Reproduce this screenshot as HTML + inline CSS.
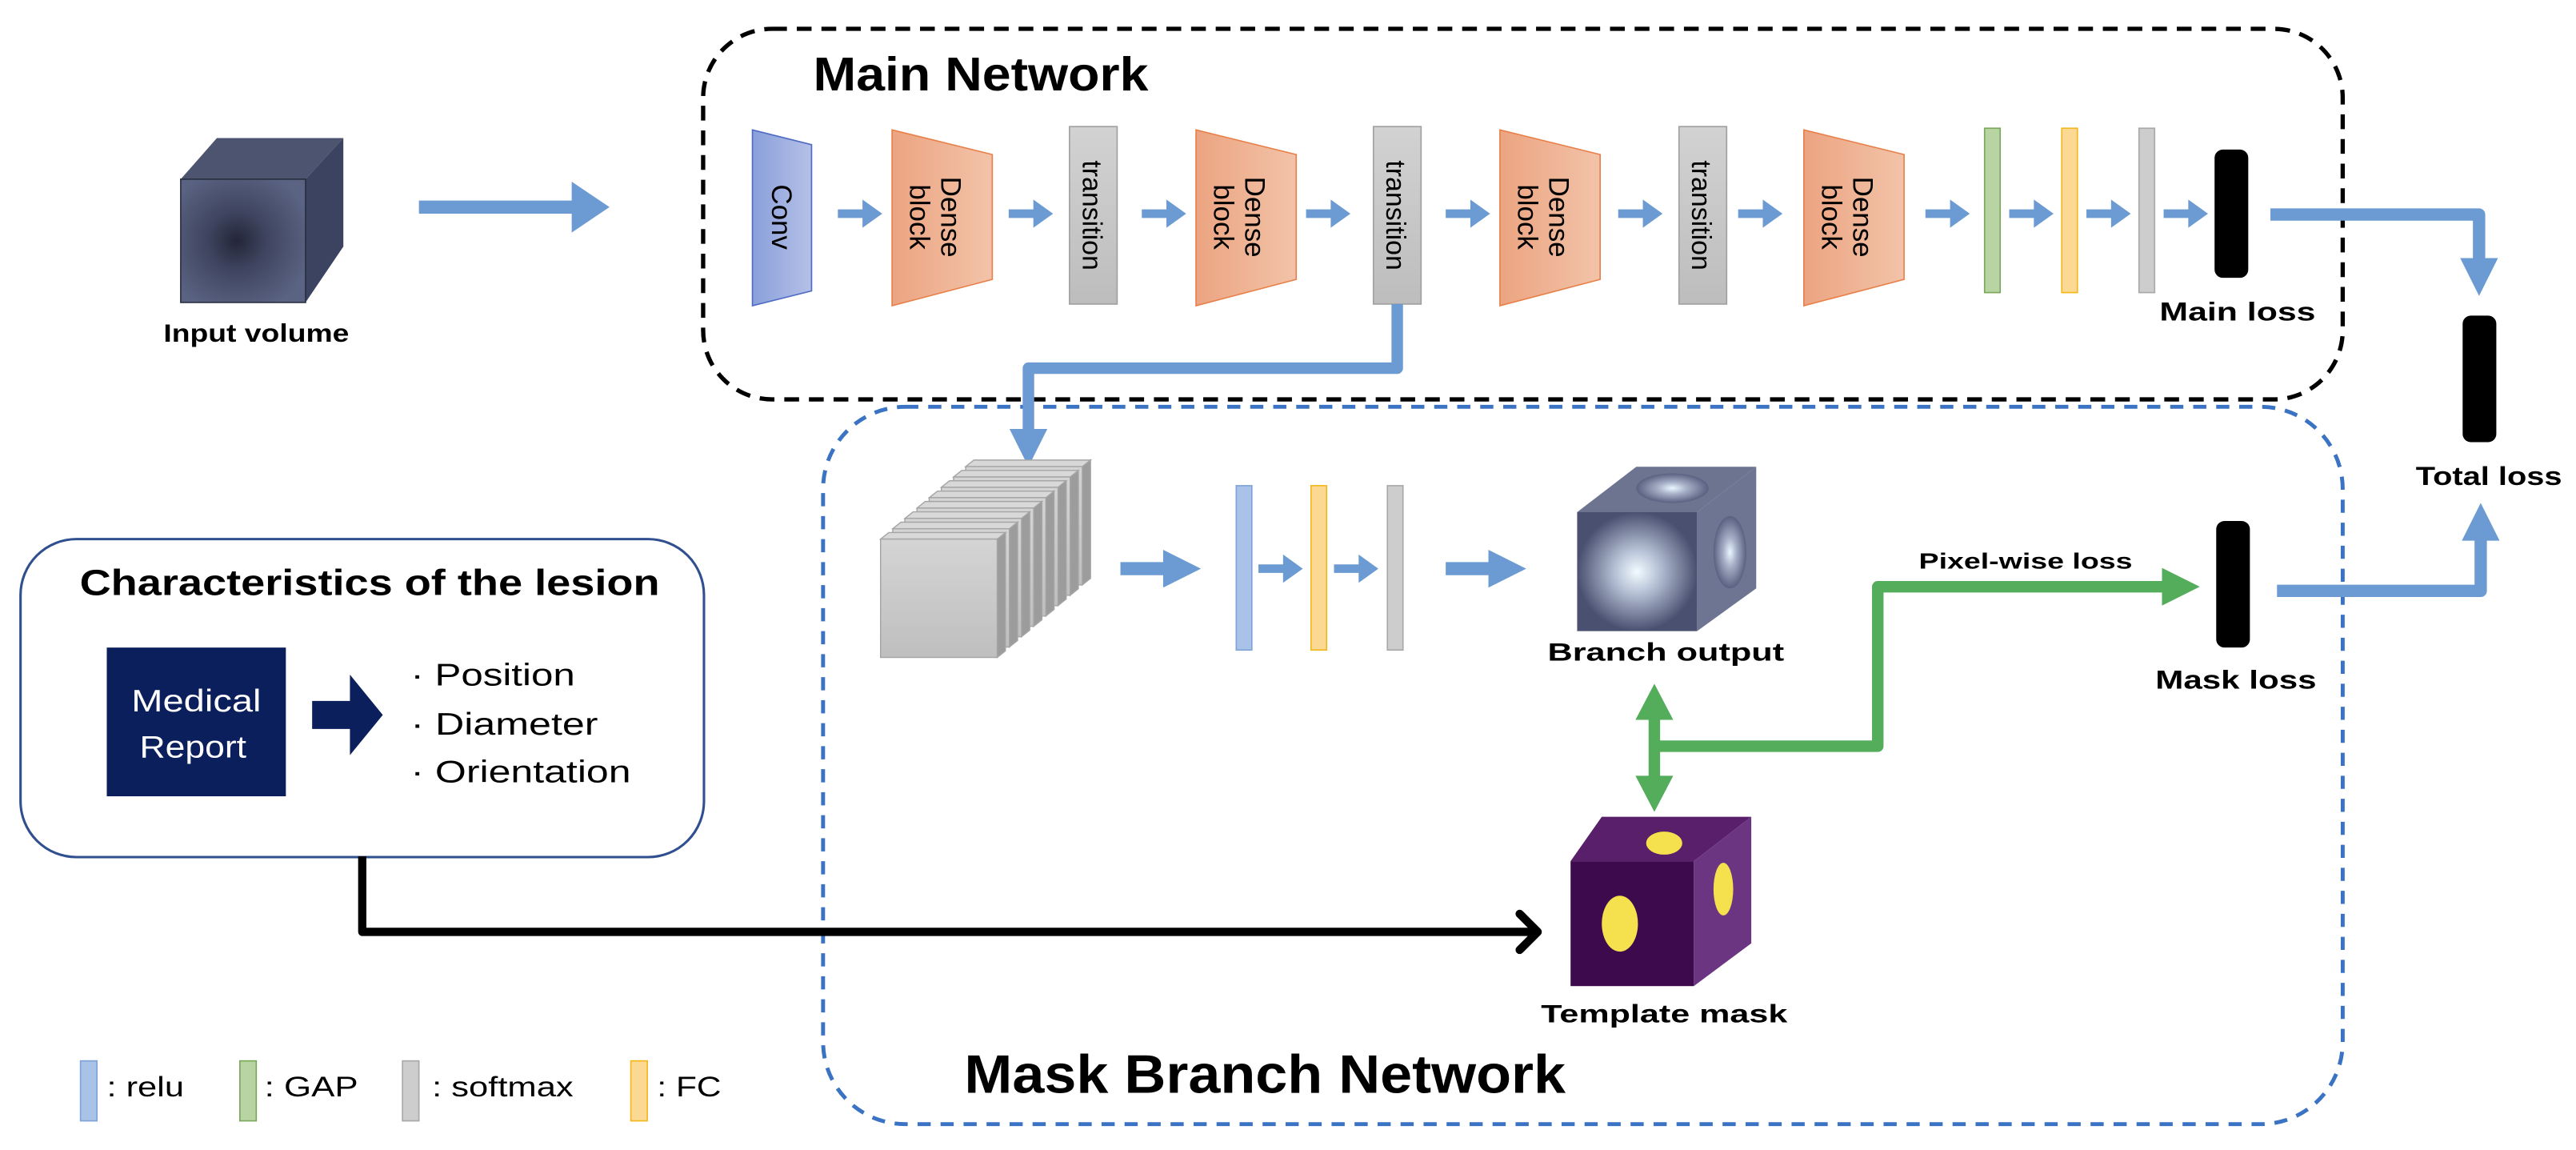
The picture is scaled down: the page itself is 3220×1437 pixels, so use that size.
<!DOCTYPE html>
<html><head><meta charset="utf-8"><style>
html,body{margin:0;padding:0;background:#fff;}
svg{display:block;}
text{font-family:"Liberation Sans",sans-serif;}
</style></head><body>
<svg width="3220" height="1437" viewBox="0 0 1568 699.7" xmlns="http://www.w3.org/2000/svg">
<defs>
<linearGradient id="gConv" x1="0" x2="1"><stop offset="0" stop-color="#8a9fdb"/><stop offset="1" stop-color="#b4c0e6"/></linearGradient>
<linearGradient id="gDense" x1="0" x2="1"><stop offset="0" stop-color="#eca481"/><stop offset="1" stop-color="#f2c3a9"/></linearGradient>
<linearGradient id="gTrans" x1="0" y1="0" x2="0" y2="1"><stop offset="0" stop-color="#d2d2d2"/><stop offset="1" stop-color="#bdbdbd"/></linearGradient>
<linearGradient id="gSlab" x1="0" y1="0" x2="0" y2="1"><stop offset="0" stop-color="#d4d4d4"/><stop offset="1" stop-color="#bfbfbf"/></linearGradient>
<radialGradient id="gSpot" cx="0.5" cy="0.5" r="0.5"><stop offset="0" stop-color="#f2fbff"/><stop offset="0.35" stop-color="#b9c4d8"/><stop offset="1" stop-color="#4a5070"/></radialGradient>
<radialGradient id="gSpot2" cx="0.5" cy="0.5" r="0.5"><stop offset="0" stop-color="#eaf8ff"/><stop offset="0.4" stop-color="#a7b0c8"/><stop offset="1" stop-color="#5a6080"/></radialGradient>
<radialGradient id="gIn" cx="0.45" cy="0.5" r="0.6"><stop offset="0" stop-color="#232638"/><stop offset="0.4" stop-color="#3f4560"/><stop offset="1" stop-color="#5a6382"/></radialGradient>
<path id="sa" d="M0,-2.6 h15 v-6 l12,8.6 l-12,8.6 v-6 h-15 z" fill="#6b9bd2"/>
<path id="ba" d="M0,-4 h26 v-7.5 l23,11.5 l-23,11.5 v-7.5 h-26 z" fill="#6b9bd2"/>
</defs>

<!-- Main network box -->
<rect x="428" y="17.5" width="998" height="225.5" rx="42" fill="none" stroke="#000" stroke-width="2.6" stroke-dasharray="9 6"/>
<text x="495" y="55" font-size="29" font-weight="bold" textLength="204" lengthAdjust="spacingAndGlyphs">Main Network</text>

<!-- Mask branch box -->
<rect x="501" y="247.5" width="925" height="436.5" rx="50" fill="none" stroke="#3a72c4" stroke-width="2.4" stroke-dasharray="8 6"/>
<text x="587" y="665" font-size="33" font-weight="bold" textLength="366" lengthAdjust="spacingAndGlyphs">Mask Branch Network</text>

<!-- Input volume -->
<polygon points="110,109 132,84 209,84 186,109" fill="#4c5470"/>
<polygon points="186,109 209,84 209,150 186,184" fill="#3c4360"/>
<rect x="110" y="109" width="76" height="75" fill="url(#gIn)"/>
<rect x="110" y="109" width="76" height="75" fill="none" stroke="#2a2e40" stroke-width="0.8"/>
<text x="156" y="208" font-size="15.5" font-weight="bold" text-anchor="middle" textLength="113" lengthAdjust="spacingAndGlyphs">Input volume</text>
<path d="M255,122 h93 v-11.5 l23,15.5 l-23,15.5 v-11.5 h-93 z" fill="#6b9bd2"/>

<!-- main chain -->
<polygon points="458,79 494,88 494,177 458,186" fill="url(#gConv)" stroke="#4d6bc4" stroke-width="0.8"/>
<text transform="translate(470,132) rotate(90)" font-size="17" text-anchor="middle">Conv</text>
<use href="#sa" x="510" y="130"/>
<polygon points="543,79 604,94 604,170 543,186" fill="url(#gDense)" stroke="#e8804a" stroke-width="0.8"/>
<text transform="translate(573,132) rotate(90)" font-size="17" text-anchor="middle"><tspan x="0" y="0">Dense</tspan><tspan x="0" y="19">block</tspan></text>
<use href="#sa" x="614" y="130"/>
<rect x="651" y="77" width="29" height="108" fill="url(#gTrans)" stroke="#a0a0a0" stroke-width="0.8"/>
<text transform="translate(659,131) rotate(90)" font-size="16.5" text-anchor="middle">transition</text>
<use href="#sa" x="695" y="130"/>
<polygon points="728,79 789,94 789,170 728,186" fill="url(#gDense)" stroke="#e8804a" stroke-width="0.8"/>
<text transform="translate(758,132) rotate(90)" font-size="17" text-anchor="middle"><tspan x="0" y="0">Dense</tspan><tspan x="0" y="19">block</tspan></text>
<use href="#sa" x="795" y="130"/>
<rect x="836" y="77" width="29" height="108" fill="url(#gTrans)" stroke="#a0a0a0" stroke-width="0.8"/>
<text transform="translate(844,131) rotate(90)" font-size="16.5" text-anchor="middle">transition</text>
<use href="#sa" x="880" y="130"/>
<polygon points="913,79 974,94 974,170 913,186" fill="url(#gDense)" stroke="#e8804a" stroke-width="0.8"/>
<text transform="translate(943,132) rotate(90)" font-size="17" text-anchor="middle"><tspan x="0" y="0">Dense</tspan><tspan x="0" y="19">block</tspan></text>
<use href="#sa" x="985" y="130"/>
<rect x="1022" y="77" width="29" height="108" fill="url(#gTrans)" stroke="#a0a0a0" stroke-width="0.8"/>
<text transform="translate(1030,131) rotate(90)" font-size="16.5" text-anchor="middle">transition</text>
<use href="#sa" x="1058" y="130"/>
<polygon points="1098,79 1159,94 1159,170 1098,186" fill="url(#gDense)" stroke="#e8804a" stroke-width="0.8"/>
<text transform="translate(1128,132) rotate(90)" font-size="17" text-anchor="middle"><tspan x="0" y="0">Dense</tspan><tspan x="0" y="19">block</tspan></text>
<use href="#sa" x="1172" y="130"/>
<rect x="1208" y="78" width="9.5" height="100" fill="#b7d4a2" stroke="#79a85a" stroke-width="0.8"/>
<use href="#sa" x="1223" y="130"/>
<rect x="1255" y="78" width="9.5" height="100" fill="#fcd993" stroke="#f2b71c" stroke-width="0.8"/>
<use href="#sa" x="1270" y="130"/>
<rect x="1302" y="78" width="9.5" height="100" fill="#cdcdcd" stroke="#a8a8a8" stroke-width="0.8"/>
<use href="#sa" x="1317" y="130"/>
<rect x="1348" y="91" width="20.5" height="78" rx="5" fill="#000"/>
<text x="1362" y="195" font-size="16" font-weight="bold" text-anchor="middle" textLength="95" lengthAdjust="spacingAndGlyphs">Main loss</text>

<!-- main -> total -->
<path d="M1382,130.5 H1509 V160" fill="none" stroke="#6b9bd2" stroke-width="7.5" stroke-linejoin="round"/>
<polygon points="1497.5,157 1520.5,157 1509,180" fill="#6b9bd2"/>
<rect x="1499" y="192" width="20.5" height="77" rx="5" fill="#000"/>
<text x="1515" y="295" font-size="16" font-weight="bold" text-anchor="middle" textLength="89" lengthAdjust="spacingAndGlyphs">Total loss</text>
<path d="M1386,359.5 H1510 V325" fill="none" stroke="#6b9bd2" stroke-width="7.5" stroke-linejoin="round"/>
<polygon points="1498.5,329 1521.5,329 1510,306" fill="#6b9bd2"/>

<!-- transition2 -> branch -->
<path d="M850.5,185 V224 H626 V265" fill="none" stroke="#6b9bd2" stroke-width="7" stroke-linejoin="round"/>
<polygon points="614.5,261 637.5,261 626,284" fill="#6b9bd2"/>

<!-- stack of slabs -->
<g stroke="#a5a5a5" stroke-width="0.7">
<g transform="translate(51.8,-44.1)"><polygon points="607,328 612,324 612,396 607,400" fill="#9c9c9c"/><polygon points="536,328 541,324 612,324 607,328" fill="#d8d8d8"/><rect x="536" y="328" width="71" height="72" fill="url(#gSlab)"/></g>
<g transform="translate(44.4,-37.8)"><polygon points="607,328 612,324 612,396 607,400" fill="#9c9c9c"/><polygon points="536,328 541,324 612,324 607,328" fill="#d8d8d8"/><rect x="536" y="328" width="71" height="72" fill="url(#gSlab)"/></g>
<g transform="translate(37,-31.5)"><polygon points="607,328 612,324 612,396 607,400" fill="#9c9c9c"/><polygon points="536,328 541,324 612,324 607,328" fill="#d8d8d8"/><rect x="536" y="328" width="71" height="72" fill="url(#gSlab)"/></g>
<g transform="translate(29.6,-25.2)"><polygon points="607,328 612,324 612,396 607,400" fill="#9c9c9c"/><polygon points="536,328 541,324 612,324 607,328" fill="#d8d8d8"/><rect x="536" y="328" width="71" height="72" fill="url(#gSlab)"/></g>
<g transform="translate(22.2,-18.9)"><polygon points="607,328 612,324 612,396 607,400" fill="#9c9c9c"/><polygon points="536,328 541,324 612,324 607,328" fill="#d8d8d8"/><rect x="536" y="328" width="71" height="72" fill="url(#gSlab)"/></g>
<g transform="translate(14.8,-12.6)"><polygon points="607,328 612,324 612,396 607,400" fill="#9c9c9c"/><polygon points="536,328 541,324 612,324 607,328" fill="#d8d8d8"/><rect x="536" y="328" width="71" height="72" fill="url(#gSlab)"/></g>
<g transform="translate(7.4,-6.3)"><polygon points="607,328 612,324 612,396 607,400" fill="#9c9c9c"/><polygon points="536,328 541,324 612,324 607,328" fill="#d8d8d8"/><rect x="536" y="328" width="71" height="72" fill="url(#gSlab)"/></g>
<g><polygon points="607,328 612,324 612,396 607,400" fill="#9c9c9c"/><polygon points="536,328 541,324 612,324 607,328" fill="#d8d8d8"/><rect x="536" y="328" width="71" height="72" fill="url(#gSlab)"/></g>
</g>
<use href="#ba" x="682" y="346"/>
<rect x="752.5" y="295.5" width="9.5" height="100" fill="#a9c3e8" stroke="#7fa3d8" stroke-width="0.8"/>
<use href="#sa" x="766" y="346"/>
<rect x="798" y="295.5" width="9.5" height="100" fill="#fcd993" stroke="#f2b71c" stroke-width="0.8"/>
<use href="#sa" x="812" y="346"/>
<rect x="844.5" y="295.5" width="9.5" height="100" fill="#cdcdcd" stroke="#a8a8a8" stroke-width="0.8"/>
<use href="#ba" x="880" y="346"/>

<!-- branch output cube -->
<polygon points="960,311.6 996,284 1069,284 1033,311.6" fill="#6d7490"/>
<ellipse cx="1018" cy="297" rx="22" ry="9" fill="url(#gSpot2)"/>
<polygon points="1033,311.6 1069,284 1069,358 1033,384" fill="#6e7592"/>
<ellipse cx="1053" cy="336" rx="10" ry="22" fill="url(#gSpot2)"/>
<rect x="960" y="311.6" width="73" height="72.4" fill="url(#gSpot)"/>
<text x="1014" y="402" font-size="15.5" font-weight="bold" text-anchor="middle" textLength="144" lengthAdjust="spacingAndGlyphs">Branch output</text>

<!-- green connectors -->
<path d="M1007,435 V476 M1007,454 H1143 V357 H1320" fill="none" stroke="#53ad5b" stroke-width="7" stroke-linejoin="round"/>
<polygon points="995.5,438 1018.5,438 1007,416" fill="#53ad5b"/>
<polygon points="995.5,472 1018.5,472 1007,494" fill="#53ad5b"/>
<polygon points="1316,345.5 1316,368.5 1339,357" fill="#53ad5b"/>
<text x="1233" y="346" font-size="13.5" font-weight="bold" text-anchor="middle" textLength="130" lengthAdjust="spacingAndGlyphs">Pixel-wise loss</text>
<rect x="1349" y="317" width="20.5" height="77" rx="5" fill="#000"/>
<text x="1361" y="419" font-size="16" font-weight="bold" text-anchor="middle" textLength="98" lengthAdjust="spacingAndGlyphs">Mask loss</text>

<!-- template mask cube -->
<polygon points="956,524 975,497 1066,497 1031,524" fill="#5a1f6a"/>
<polygon points="1031,524 1066,497 1066,574 1031,600" fill="#6c3581"/>
<rect x="956" y="524" width="75" height="76" fill="#3e0a4e"/>
<ellipse cx="1013" cy="513" rx="11" ry="7" fill="#f5e14d"/>
<ellipse cx="986" cy="562" rx="11" ry="17" fill="#f5e14d"/>
<ellipse cx="1049" cy="541" rx="6" ry="16" fill="#f5e14d"/>
<text x="1013" y="622" font-size="15.5" font-weight="bold" text-anchor="middle" textLength="150" lengthAdjust="spacingAndGlyphs">Template mask</text>

<!-- characteristics box -->
<rect x="12.5" y="328" width="416" height="193.5" rx="34" fill="#fff" stroke="#2f4f8f" stroke-width="1.5"/>
<text x="225" y="362" font-size="22" font-weight="bold" text-anchor="middle" textLength="353" lengthAdjust="spacingAndGlyphs">Characteristics of the lesion</text>
<rect x="65" y="394" width="109" height="90.5" fill="#0b1f5c"/>
<text x="119.5" y="433" font-size="19" fill="#fff" text-anchor="middle" textLength="79" lengthAdjust="spacingAndGlyphs">Medical</text>
<text x="117.5" y="461" font-size="19" fill="#fff" text-anchor="middle" textLength="65" lengthAdjust="spacingAndGlyphs">Report</text>
<path d="M190,426.5 h23 v-16 l20,24.5 l-20,24.5 v-16 h-23 z" fill="#0b1f5c"/>
<text x="250" y="417" font-size="19" textLength="100" lengthAdjust="spacingAndGlyphs">· Position</text>
<text x="250" y="447" font-size="19" textLength="114" lengthAdjust="spacingAndGlyphs">· Diameter</text>
<text x="250" y="476" font-size="19" textLength="134" lengthAdjust="spacingAndGlyphs">· Orientation</text>

<!-- black arrow -->
<path d="M220.5,521 V567 H934" fill="none" stroke="#000" stroke-width="5" stroke-linejoin="round"/>
<path d="M925,556 L936,567 L925,578" fill="none" stroke="#000" stroke-width="5" stroke-linecap="round" stroke-linejoin="round"/>

<!-- legend -->
<rect x="49" y="645.5" width="10" height="36.5" fill="#a9c3e8" stroke="#7fa3d8" stroke-width="0.8"/>
<text x="65" y="667" font-size="17" textLength="47" lengthAdjust="spacingAndGlyphs">: relu</text>
<rect x="146" y="645.5" width="10" height="36.5" fill="#b7d4a2" stroke="#79a85a" stroke-width="0.8"/>
<text x="161" y="667" font-size="17" textLength="57" lengthAdjust="spacingAndGlyphs">: GAP</text>
<rect x="245" y="645.5" width="10" height="36.5" fill="#cdcdcd" stroke="#a8a8a8" stroke-width="0.8"/>
<text x="263" y="667" font-size="17" textLength="86" lengthAdjust="spacingAndGlyphs">: softmax</text>
<rect x="384" y="645.5" width="10" height="36.5" fill="#fcd993" stroke="#f2b71c" stroke-width="0.8"/>
<text x="400" y="667" font-size="17" textLength="39" lengthAdjust="spacingAndGlyphs">: FC</text>
</svg>
</body></html>
